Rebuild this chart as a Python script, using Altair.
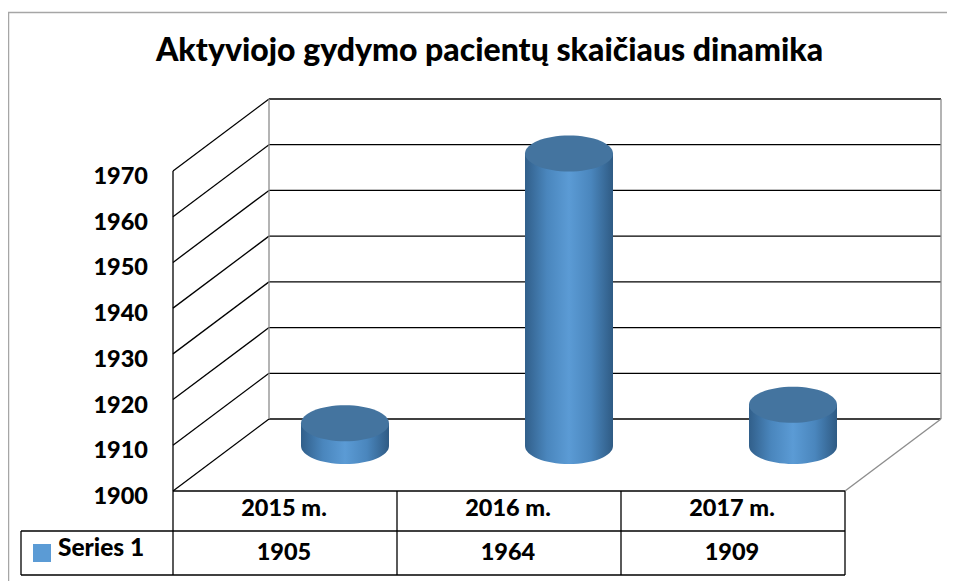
import altair as alt
import pandas as pd

TITLE = "Aktyviojo gydymo pacientų skaičiaus dinamika"
SERIES = "Series 1"
YEARS = ["2015 m.", "2016 m.", "2017 m."]
VALUES = [1905, 1964, 1909]
TICKS = [1900, 1910, 1920, 1930, 1940, 1950, 1960, 1970]

FONT = "Lato"
W, H = 939, 573
CAT_PX = 224.0          # px per category
VAL_PX = 320.0 / 70.0   # px per value unit
ORIGIN_X, ORIGIN_Y = 173.0 - 8, 491.0 - 8
DEPTH_U = 96.0 / CAT_PX   # wall depth, in x units
DEPTH_V = 72.0 / VAL_PX   # wall depth, in value units
CYL_DEPTH = 0.625         # cylinder axis position in the depth
CYL_HALF = 44.0 / CAT_PX
ROW1_V = 1900 - 40 / VAL_PX
ROW2_V = 1900 - 84 / VAL_PX
TABLE_LEFT = -152 / CAT_PX

xscale = alt.Scale(domain=[-ORIGIN_X / CAT_PX, (W - ORIGIN_X) / CAT_PX], nice=False, zero=False)
yscale = alt.Scale(domain=[1900 - (H - ORIGIN_Y) / VAL_PX, 1900 + ORIGIN_Y / VAL_PX], nice=False, zero=False)


def X(f):
    return alt.X(f, type="quantitative", scale=xscale, axis=None, title=None)


def Y(f):
    return alt.Y(f, type="quantitative", scale=yscale, axis=None, title=None)


def seg_layer(segs, color, width):
    df = pd.DataFrame(segs, columns=["x", "y", "x2", "y2"])
    return alt.Chart(df).mark_rule(color=color, strokeWidth=width).encode(
        x=X("x"), y=Y("y"), x2=alt.X2("x2"), y2=alt.Y2("y2")
    )


top = TICKS[-1]
n = len(YEARS)
black = []
for t in TICKS:
    black.append((0, t, DEPTH_U, t + DEPTH_V))
    black.append((DEPTH_U, t + DEPTH_V, n + DEPTH_U, t + DEPTH_V))
black += [
    (0, ROW2_V, 0, top),
    (0, 1900, n, 1900),
    (TABLE_LEFT, ROW1_V, n, ROW1_V),
    (TABLE_LEFT, ROW2_V, n, ROW2_V),
    (TABLE_LEFT, ROW1_V, TABLE_LEFT, ROW2_V),
]
for i in range(1, n + 1):
    black.append((i, 1900, i, ROW2_V))

gray = [
    (DEPTH_U, 1900 + DEPTH_V, DEPTH_U, top + DEPTH_V),
    (n + DEPTH_U, 1900 + DEPTH_V, n + DEPTH_U, top + DEPTH_V),
    (n, 1900, n + DEPTH_U, 1900 + DEPTH_V),
]

frame_top = alt.Chart(pd.DataFrame({"a": [0]})).mark_rule(color="#a6a6a6", strokeWidth=1.5).encode(
    x=alt.value(0), x2=alt.value(W), y=alt.value(4.5)
)
frame_left = alt.Chart(pd.DataFrame({"a": [0]})).mark_rule(color="#a6a6a6", strokeWidth=1.5).encode(
    x=alt.value(0.5), y=alt.value(4.5), y2=alt.value(H)
)

cyl = pd.DataFrame({
    "cx": [i + 0.5 + CYL_DEPTH * DEPTH_U for i in range(n)],
    "base": [1900 + CYL_DEPTH * DEPTH_V] * n,
    "value": VALUES,
})
cyl["top"] = cyl["value"] + CYL_DEPTH * DEPTH_V
cyl["x0"] = cyl["cx"] - CYL_HALF
cyl["x1"] = cyl["cx"] + CYL_HALF

side = alt.Gradient(
    gradient="linear",
    stops=[
        alt.GradientStop(color="#315f8a", offset=0),
        alt.GradientStop(color="#4a86bd", offset=0.25),
        alt.GradientStop(color="#5b9bd5", offset=0.5),
        alt.GradientStop(color="#4a86bd", offset=0.75),
        alt.GradientStop(color="#2f5b84", offset=1),
    ],
    x1=0, x2=1, y1=0, y2=0,
)

KY = 18.0 / 44.0
K = 0.5523
UP = -0.03
LOWER = f"M-1,{UP}L-1,0C-1,{KY*K:.4f},{-K},{KY:.4f},0,{KY:.4f}C{K},{KY:.4f},1,{KY*K:.4f},1,0L1,{UP}Z"
ELLIPSE = (
    f"M-1,0C-1,{-KY*K:.4f},{-K},{-KY:.4f},0,{-KY:.4f}C{K},{-KY:.4f},1,{-KY*K:.4f},1,0"
    f"C1,{KY*K:.4f},{K},{KY:.4f},0,{KY:.4f}C{-K},{KY:.4f},-1,{KY*K:.4f},-1,0Z"
)
SIZE = 88.0 ** 2

body = alt.Chart(cyl).mark_rect(color=side).encode(
    x=X("x0"), x2=alt.X2("x1"), y=Y("base"), y2=alt.Y2("top")
)
bottom = alt.Chart(cyl).mark_point(
    shape=LOWER, filled=True, size=SIZE, opacity=1, strokeWidth=0, color=side
).encode(x=X("cx"), y=Y("base"))
cap = alt.Chart(cyl).mark_point(
    shape=ELLIPSE, filled=True, size=SIZE, opacity=1, strokeWidth=0, color="#44749f"
).encode(x=X("cx"), y=Y("top"))

text_kw = dict(font=FONT, fontWeight=900, fontSize=23.5, color="#000000")

tick_df = pd.DataFrame({"t": TICKS, "label": [str(t) for t in TICKS]})
tick_text = alt.Chart(tick_df).mark_text(align="right", baseline="middle", dy=6, **text_kw).encode(
    x=alt.value(140), y=Y("t"), text="label:N"
)
tab = pd.DataFrame({
    "c": [i + 0.5 for i in range(n)],
    "year": YEARS,
    "val": [str(v) for v in VALUES],
    "r1": [(1900 + ROW1_V) / 2] * n,
    "r2": [(ROW1_V + ROW2_V) / 2] * n,
})
year_text = alt.Chart(tab).mark_text(baseline="middle", dy=-2, dx=-1, **text_kw).encode(x=X("c"), y=Y("r1"), text="year:N")
val_text = alt.Chart(tab).mark_text(baseline="middle", dx=-1, **text_kw).encode(x=X("c"), y=Y("r2"), text="val:N")

leg = pd.DataFrame({"s": [SERIES], "x": [TABLE_LEFT], "y": [(ROW1_V + ROW2_V) / 2]})
leg_sq = alt.Chart(leg).mark_square(size=324, color="#5b9bd5", opacity=1).encode(
    x=X("x"), y=Y("y"), xOffset=alt.value(21)
)
leg_tx = alt.Chart(leg).mark_text(align="left", baseline="middle", dx=37, dy=-4, font=FONT, fontWeight=900, fontSize=24.5, color="#000000").encode(
    x=X("x"), y=Y("y"), text="s:N"
)

chart = alt.layer(
    frame_top, frame_left,
    seg_layer(black, "#000000", 1.3),
    seg_layer(gray, "#8c8c8c", 1.3),
    body, bottom, cap,
    tick_text, year_text, val_text, leg_sq, leg_tx,
).properties(
    width=W, height=H, padding=0, autosize=alt.AutoSizeParams(type="none"),
    title=alt.TitleParams(
        TITLE, font=FONT, fontWeight=900, fontSize=32, color="#000000",
        anchor="middle", dx=12, dy=64,
    ),
).configure_view(stroke=None)

chart.save("out.html", embed_options={"renderer": "svg", "actions": False})
